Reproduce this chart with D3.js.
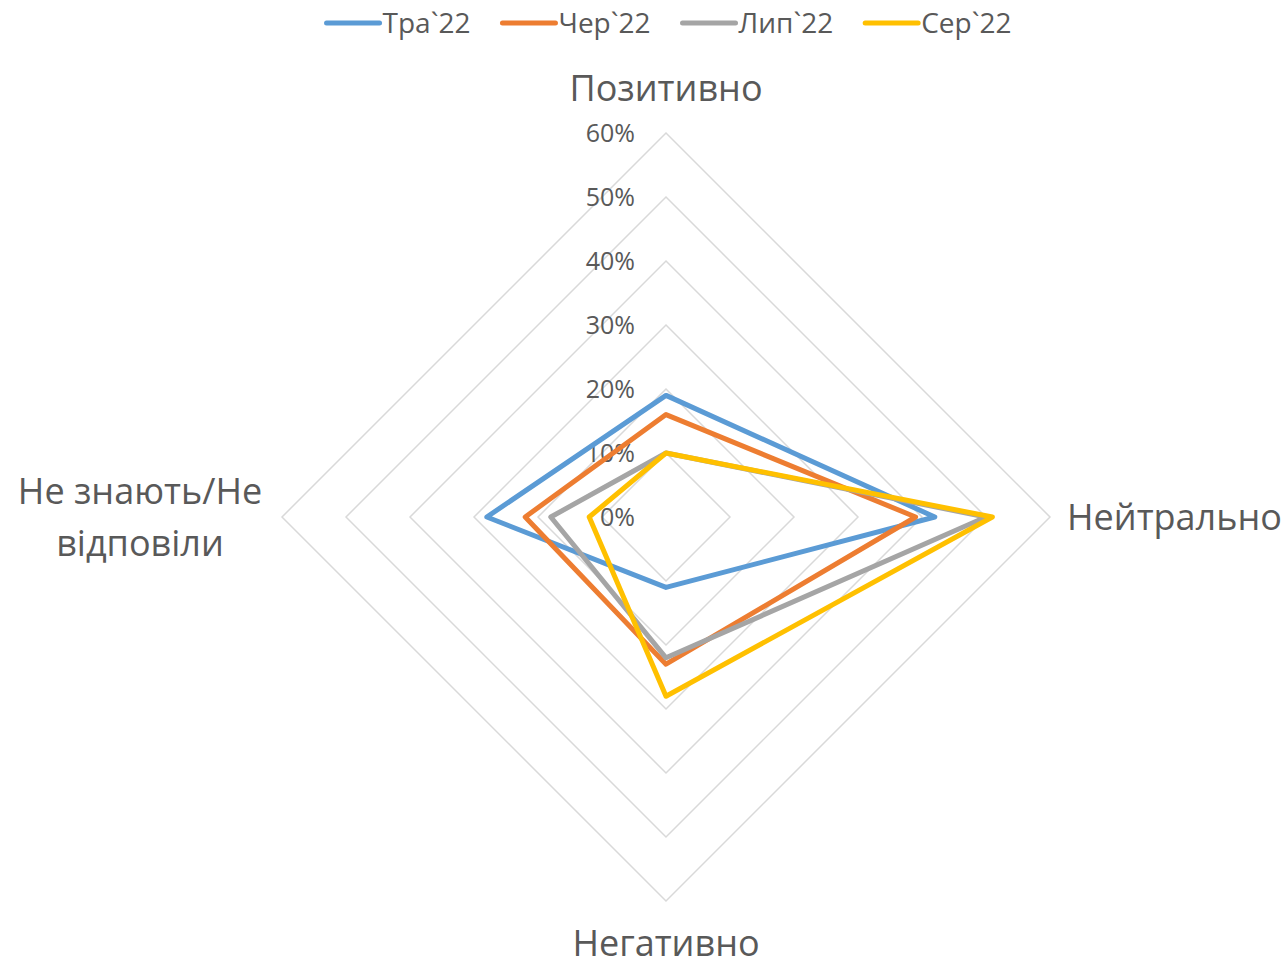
<!DOCTYPE html>
<html lang="uk">
<head>
<meta charset="UTF-8">
<title>Radar</title>
<script src="https://d3js.org/d3.v7.min.js"></script>
<style>
    body { margin: 0; background: white; }
    svg text { font-family: "Open Sans", "Noto Sans", sans-serif; fill: #595959; }
</style>
</head>
<body>
<div id="chart"></div>
<script>
    // data
    const categories = ["Позитивно", "Нейтрально", "Негативно", "Не знають/Не відповіли"];
    const seriesNames = ["Тра`22", "Чер`22", "Лип`22", "Сер`22"];
    const tra22 = [0.19, 0.42, 0.11, 0.28];
    const cher22 = [0.16, 0.39, 0.23, 0.22];
    const lyp22 = [0.10, 0.50, 0.22, 0.18];
    const ser22 = [0.10, 0.51, 0.28, 0.12];
    const tickValues = [0, 0.1, 0.2, 0.3, 0.4, 0.5, 0.6];
    const colors = ["#5B9BD5", "#ED7D31", "#A5A5A5", "#FFC000"];

    const series = [tra22, cher22, lyp22, ser22];

    const width = 1286, height = 962;
    const cx = 666, cy = 517;

    const svg = d3.select('#chart').append('svg')
        .attr('width', width).attr('height', height);

    const r = d3.scaleLinear().domain([0, 0.6]).range([0, 384]);
    const angle = d3.scalePoint().domain(d3.range(categories.length)).range([0, 2 * Math.PI * 3 / 4]);

    const g = svg.append('g').attr('transform', `translate(${cx},${cy})`);

    // grid rings
    const ring = d3.lineRadial()
        .angle((d, i) => angle(i))
        .radius(d => r(d))
        .curve(d3.curveLinearClosed);

    g.selectAll('.grid')
        .data(tickValues.filter(t => t > 0))
        .enter().append('path')
        .attr('d', t => ring(categories.map(() => t)))
        .attr('fill', 'none')
        .attr('stroke', '#D9D9D9')
        .attr('stroke-width', 1.5);

    // tick labels
    g.selectAll('.tick')
        .data(tickValues)
        .enter().append('text')
        .attr('x', -31)
        .attr('y', t => -r(t))
        .attr('dy', '0.35em')
        .attr('text-anchor', 'end')
        .style('font-size', '25px')
        .text(d3.format('.0%'));

    // series
    const line = d3.lineRadial()
        .angle((d, i) => angle(i))
        .radius(d => r(d))
        .curve(d3.curveLinearClosed);

    g.selectAll('.series')
        .data(series)
        .enter().append('path')
        .attr('d', d => line(d))
        .attr('fill', 'none')
        .attr('stroke', (d, i) => colors[i])
        .attr('stroke-width', 5)
        .attr('stroke-linejoin', 'round');

    // category labels
    const catFont = '36px';
    g.append('text').attr('x', 0).attr('y', -429).attr('dy', '0.35em')
        .attr('text-anchor', 'middle').style('font-size', catFont).text(categories[0]);
    g.append('text').attr('x', 401).attr('y', 0).attr('dy', '0.35em')
        .attr('text-anchor', 'start').style('font-size', catFont).text(categories[1]);
    g.append('text').attr('x', 0).attr('y', 426).attr('dy', '0.35em')
        .attr('text-anchor', 'middle').style('font-size', catFont).text(categories[2]);
    const left = g.append('text').attr('text-anchor', 'middle').style('font-size', catFont);
    left.append('tspan').attr('x', -526).attr('y', -26).attr('dy', '0.35em').text('Не знають/Не');
    left.append('tspan').attr('x', -526).attr('y', 26).attr('dy', '0.35em').text('відповіли');

    // legend
    const legend = svg.append('g');
    let lx = 0;
    seriesNames.forEach((name, i) => {
        const item = legend.append('g').attr('transform', `translate(${lx},0)`);
        item.append('line').attr('x1', 0).attr('x2', 53).attr('y1', 0).attr('y2', 0)
            .attr('stroke', colors[i]).attr('stroke-width', 5).attr('stroke-linecap', 'round');
        const t = item.append('text').attr('x', 56).attr('y', 0).attr('dy', '0.35em')
            .style('font-size', '28px').text(name);
        lx += 56 + t.node().getComputedTextLength() + 32;
    });
    const lw = lx - 32;
    legend.attr('transform', `translate(${669 - lw / 2},23)`);
</script>
</body>
</html>
